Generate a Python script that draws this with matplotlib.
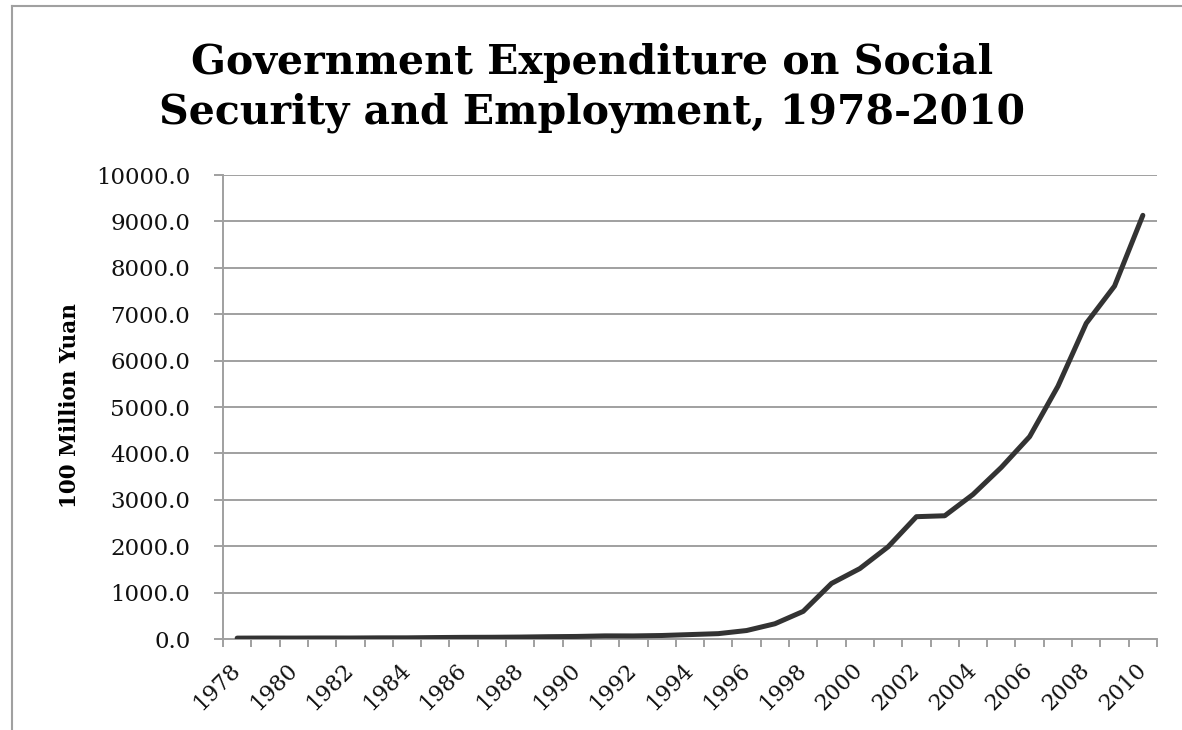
import matplotlib
matplotlib.use("Agg")
import matplotlib.pyplot as plt
from matplotlib.lines import Line2D
from matplotlib.ticker import FixedLocator, NullFormatter, FixedFormatter

years = list(range(1978, 2011))
expenditure = [18.91, 20.77, 20.31, 21.72, 21.41, 24.56, 25.16, 31.15, 35.58, 37.40,
               41.77, 49.68, 55.04, 67.32, 66.45, 75.27, 95.14, 115.46, 182.68, 328.42,
               595.63, 1197.44, 1517.57, 1987.40, 2636.22, 2655.91, 3116.08, 3698.86,
               4361.78, 5447.16, 6804.29, 7606.68, 9130.62]
y_ticks = [0, 1000, 2000, 3000, 4000, 5000, 6000, 7000, 8000, 9000, 10000]
title = "Government Expenditure on Social\nSecurity and Employment, 1978-2010"
ylabel = "100 Million Yuan"

W, H = 1182, 730
fig = plt.figure(figsize=(W / 100, H / 100), dpi=100)
fig.patch.set_facecolor("white")

grey = "#a0a0a0"
# outer chart border (top and left edges visible; rest cropped)
fig.add_artist(Line2D([12 / W, 1.02], [1 - 5.5 / H, 1 - 5.5 / H], transform=fig.transFigure,
                      color=grey, linewidth=1.5))
fig.add_artist(Line2D([12 / W, 12 / W], [-0.02, 1 - 5.5 / H], transform=fig.transFigure,
                      color=grey, linewidth=1.5))

ax = fig.add_axes([223 / W, 1 - 639 / H, (1157 - 223) / W, (639 - 175) / H])
x = list(range(len(years)))
ax.plot(x, expenditure, color="#333333", linewidth=3.6, solid_capstyle="round",
        solid_joinstyle="round", zorder=3)

ax.set_xlim(-0.5, len(years) - 0.5)
ax.set_ylim(0, 10000)
ax.set_yticks(y_ticks)
ax.set_yticklabels([f"{v:.1f}" for v in y_ticks], fontfamily="DejaVu Serif",
                   fontsize=16.5, color="#111111")
ax.yaxis.grid(True, color=grey, linewidth=1.4)
ax.set_axisbelow(True)

ax.xaxis.set_major_locator(FixedLocator([i - 0.5 for i in range(len(years) + 1)]))
ax.xaxis.set_major_formatter(NullFormatter())
lab_pos = [i for i in range(0, len(years), 2)]
ax.xaxis.set_minor_locator(FixedLocator(lab_pos))
ax.xaxis.set_minor_formatter(FixedFormatter([str(years[i]) for i in lab_pos]))
ax.tick_params(axis="x", which="major", length=6, width=1.4, color=grey, direction="out")
ax.tick_params(axis="x", which="minor", length=0, pad=20)
for lab in ax.get_xticklabels(minor=True):
    lab.set_rotation(45)
    lab.set_ha("right")
    lab.set_va("center")
    lab.set_rotation_mode("anchor")
    lab.set_fontfamily("DejaVu Serif")
    lab.set_fontsize(16)
    lab.set_color("#111111")
ax.tick_params(axis="y", length=6.5, width=1.4, color=grey, direction="out", pad=17)

for s in ["top", "right"]:
    ax.spines[s].set_visible(False)
for s in ["left", "bottom"]:
    ax.spines[s].set_color(grey)
    ax.spines[s].set_linewidth(1.4)

fig.text(70 / W, 1 - 406 / H, ylabel, rotation=90, ha="center", va="center",
         fontfamily="DejaVu Serif", fontweight="bold", fontsize=15.5, color="black")
fig.text(592 / W, 1 - 88 / H, title, ha="center", va="center", multialignment="center",
         fontfamily="DejaVu Serif", fontweight="bold", fontsize=29.5, color="black",
         linespacing=1.28)

fig.savefig("out.png", dpi=100, facecolor="white")
